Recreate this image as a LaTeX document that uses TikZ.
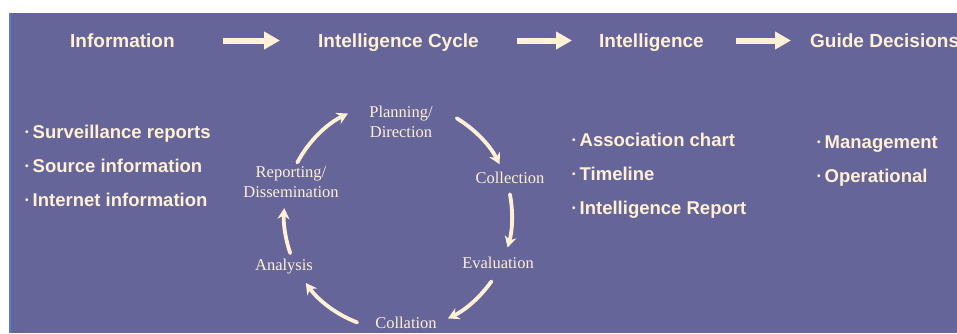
\documentclass[tikz,border=0pt]{standalone}
\usepackage{fontspec}
\setmainfont{Liberation Serif}
\newfontfamily\headfont{Liberation Sans}
\usetikzlibrary{arrows.meta}
\definecolor{panel}{HTML}{65659A}
\definecolor{cream}{HTML}{FFF0D6}
\definecolor{edge}{HTML}{5A7EC2}
\newcommand{\bul}{\raisebox{3pt}{\fontsize{10}{10}\selectfont\textbullet}\hspace{4pt}}

\begin{document}
\begin{tikzpicture}[x=1pt, y=1pt,
    head/.style={font=\headfont\bfseries\fontsize{19}{19}\selectfont, text=cream,
      inner sep=0pt, text height=13pt, text depth=0pt, anchor=west},
    item/.style={head, font=\headfont\bfseries\fontsize{18.5}{18.5}\selectfont},
    stage/.style={text=cream, font=\fontsize{16.5}{20}\selectfont, align=center, inner sep=0pt},
    flow/.style={cream, line width=6pt, -{Triangle[length=16pt, width=17pt]}},
    turn/.style={cream, line width=3.8pt, line cap=round, -{Stealth[length=11pt, width=12pt]}}]
  \useasboundingbox (0,0) rectangle (957,-333);
  \fill[panel] (9,-13) rectangle (957,-333);
  \draw[edge, line width=2pt] (10,-13) -- (10,-333);

  % top row
  \node[head] (info)  at (70,-40.5)  {Information};
  \node[head] (cycle) at (318,-40.5) {Intelligence Cycle};
  \node[head] (intel) at (599,-40.5) {Intelligence};
  \node[head] (guide) at (810,-40.5) {Guide Decisions};
  \draw[flow] ([xshift=48pt]info.east)  -- ([xshift=-38pt]cycle.west);
  \draw[flow] ([xshift=38pt]cycle.east) -- ([xshift=-27pt]intel.west);
  \draw[flow] ([xshift=32pt]intel.east) -- ([xshift=-19pt]guide.west);

  % bullet lists
  \foreach \t [count=\i] in {Surveillance reports, Source information, Internet information}
    \node[item] (src\i) at (25,-98-34*\i) {\bul\t};
  \foreach \t [count=\i] in {Association chart, Timeline, Intelligence Report}
    \node[item] (prod\i) at (572,-106-34*\i) {\bul\t};
  \foreach \t [count=\i] in {Management, Operational}
    \node[item] (use\i) at (817,-108.5-33.5*\i) {\bul\t};

  % the cycle
  \coordinate (hub) at (398,-216);
  \node[stage] (plan)   at (401,-122) {Planning/\\Direction};
  \node[stage] (collect) at (510,-178) {Collection};
  \node[stage] (eval)   at (498,-263) {Evaluation};
  \node[stage] (collate) at (406,-323) {Collation};
  \node[stage] (anal)   at (284,-267) {Analysis};
  \node[stage] (report) at (291,-182) {Reporting/\\Dissemination};
  \foreach \a/\b in {59/27, 11/-16, -35/-64, -111/-144, -161/-184, 152/116}
    \draw[turn] ([shift={(\a:114)}]hub) arc[start angle=\a, end angle=\b, radius=114pt];
\end{tikzpicture}
\end{document}
